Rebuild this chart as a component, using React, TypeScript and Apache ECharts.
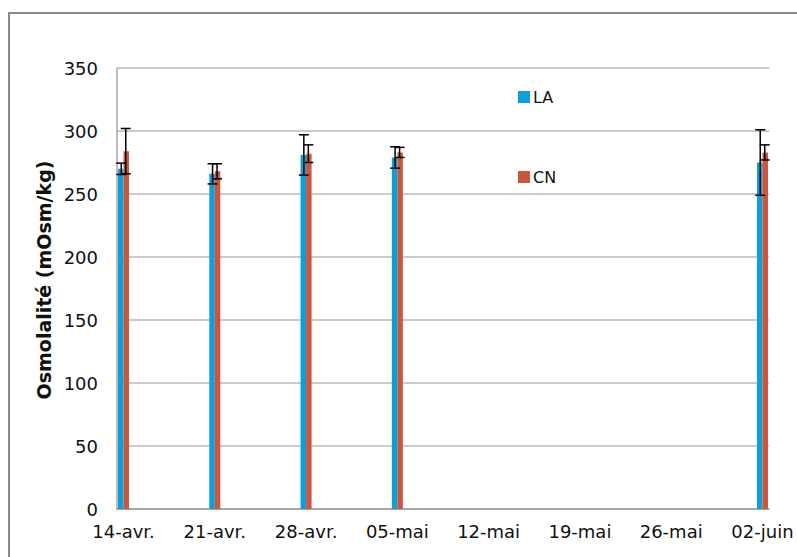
import React, { useEffect, useRef } from "react";
import * as echarts from "echarts";

// Day-by-day time axis, 14 avril → 02 juin
const monthNames = ["janv.", "févr.", "mars", "avr.", "mai", "juin", "juil.", "août", "sept.", "oct.", "nov.", "déc."];
const axisStart = { month: 3, day: 14 };
const axisDays = 50;
const labelEvery = 7;

// Sampling dates and measurements
const sampleDates = ["14-avr.", "21-avr.", "28-avr.", "05-mai", "02-juin"];
const laMean = [270, 266, 281, 279, 275];
const laErr = [4.5, 8, 16, 8.5, 26];
const cnMean = [284, 268, 282, 283, 283];
const cnErr = [18, 6, 7, 4, 6];

const yTicks = [0, 50, 100, 150, 200, 250, 300, 350];

const seriesNames = ["LA", "CN"];
const seriesColors = ["#0e9ed8", "#c9573f"];

function buildDays(): string[] {
  const out: string[] = [];
  const d = new Date(2015, axisStart.month, axisStart.day);
  for (let i = 0; i < axisDays; i++) {
    const dd = String(d.getDate()).padStart(2, "0");
    out.push(`${dd}-${monthNames[d.getMonth()]}`);
    d.setDate(d.getDate() + 1);
  }
  return out;
}

const FONT = "DejaVu Sans";
const BAR_W = 5.5;

export default function App() {
  const ref = useRef<HTMLDivElement>(null);

  useEffect(() => {
    if (!ref.current) return;
    const chart = echarts.init(ref.current, undefined, { renderer: "svg" });
    const days = buildDays();

    const toSeries = (means: number[]) =>
      days.map((d) => {
        const k = sampleDates.indexOf(d);
        return k >= 0 ? means[k] : "-";
      });

    const errData = (means: number[], errs: number[]) =>
      sampleDates.map((d, k) => [days.indexOf(d), means[k] - errs[k], means[k] + errs[k]]);

    const errSeries = (means: number[], errs: number[], offset: number) => ({
      type: "custom",
      z: 10,
      silent: true,
      data: errData(means, errs),
      encode: { x: 0, y: [1, 2] },
      renderItem: (params: any, api: any) => {
        const idx = api.value(0);
        const lo = api.coord([idx, api.value(1)]);
        const hi = api.coord([idx, api.value(2)]);
        const x = lo[0] + offset;
        const hw = 5;
        const style = { stroke: "#000", lineWidth: 1.5 };
        return {
          type: "group",
          children: [
            { type: "line", shape: { x1: x, y1: hi[1], x2: x, y2: lo[1] }, style },
            { type: "line", shape: { x1: x - hw, y1: hi[1], x2: x + hw, y2: hi[1] }, style },
            { type: "line", shape: { x1: x - hw, y1: lo[1], x2: x + hw, y2: lo[1] }, style },
          ],
        };
      },
    });

    chart.setOption({
      animation: false,
      backgroundColor: "#fff",
      textStyle: { fontFamily: FONT },
      grid: { left: 117, right: 28, top: 68, bottom: 48 },
      legend: {
        orient: "vertical",
        left: 513,
        top: 84,
        itemWidth: 12,
        itemHeight: 12,
        itemGap: 64,
        icon: "rect",
        data: seriesNames,
        textStyle: { fontFamily: FONT, fontSize: 16, color: "#111", padding: [0, 0, 0, -2] },
      },
      xAxis: {
        type: "category",
        data: days,
        boundaryGap: true,
        axisLine: { lineStyle: { color: "#9a9a9a", width: 1.5 } },
        axisTick: { show: false },
        axisLabel: {
          interval: (i: number) => i % labelEvery === 0,
          margin: 13,
          fontFamily: FONT,
          fontSize: 18,
          color: "#111",
        },
      },
      yAxis: {
        type: "value",
        min: yTicks[0],
        max: yTicks[yTicks.length - 1],
        interval: 50,
        axisLine: { show: true, lineStyle: { color: "#a6a6a6", width: 1.5 } },
        axisTick: { show: false },
        splitLine: { lineStyle: { color: "#b8b8b8", width: 1.5 } },
        axisLabel: { margin: 19, fontFamily: FONT, fontSize: 18, color: "#111" },
      },
      graphic: [
        {
          type: "rect",
          shape: { x: 9, y: 13, width: 820, height: 580 },
          style: { fill: "none", stroke: "#8a8a8a", lineWidth: 2 },
          silent: true,
        },
        {
          type: "text",
          x: 44,
          y: 280,
          rotation: Math.PI / 2,
          style: {
            text: "Osmolalité (mOsm/kg)",
            fontFamily: FONT,
            fontWeight: "bold",
            fontSize: 19,
            fill: "#111",
            align: "center",
            verticalAlign: "middle",
          },
        },
      ],
      series: [
        {
          name: seriesNames[0],
          type: "bar",
          data: toSeries(laMean),
          barWidth: BAR_W,
          barGap: "0%",
          itemStyle: { color: seriesColors[0] },
        },
        {
          name: seriesNames[1],
          type: "bar",
          data: toSeries(cnMean),
          barWidth: BAR_W,
          barGap: "0%",
          itemStyle: { color: seriesColors[1] },
        },
        errSeries(laMean, laErr, -BAR_W / 2 + 0.5),
        errSeries(cnMean, cnErr, BAR_W / 2 - 0.5),
      ],
    });

    return () => chart.dispose();
  }, []);

  return (
    <div
      ref={ref}
      style={{ position: "fixed", left: 0, top: 0, width: 797, height: 557 }}
    />
  );
}
